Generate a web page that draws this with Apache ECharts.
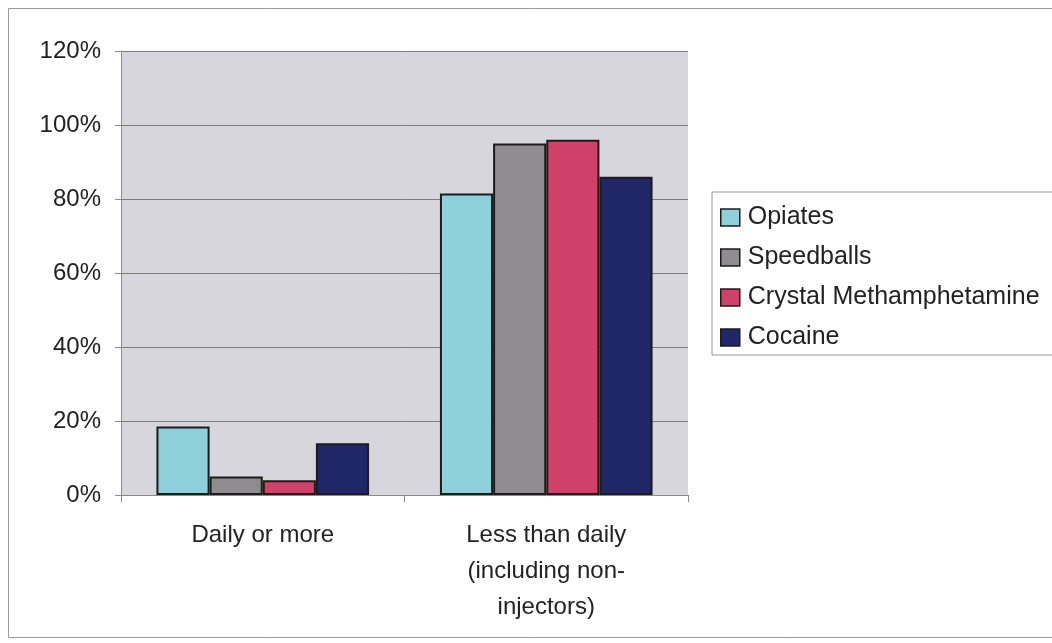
<!DOCTYPE html>
<html>
<head>
<meta charset="utf-8">
<title>Injection frequency by drug</title>
<script src="https://cdn.jsdelivr.net/npm/echarts@6/dist/echarts.min.js"></script>
<style>
  html, body { margin: 0; padding: 0; background: #ffffff; }
  #chart { width: 1052px; height: 643px; }
</style>
</head>
<body>
<div id="chart"></div>
<script>
// Frequency categories (x axis)
const categories = ['Daily or more', 'Less than daily\n(including non-\ninjectors)'];

// Share of users per drug in each frequency category (%)
const opiates = [18.5, 81.5];
const speedballs = [5, 95];
const crystalMeth = [4, 96];
const cocaine = [14, 86];

const seriesNames = ['Opiates', 'Speedballs', 'Crystal Methamphetamine', 'Cocaine'];
const seriesColors = ['#8dd0da', '#8e8c8e', '#cf4168', '#1f2768'];
const seriesValues = [opiates, speedballs, crystalMeth, cocaine];

// Y axis range (%)
const yMin = 0, yMax = 120, yStep = 20;

const FONT = '"Liberation Sans", Arial, Helvetica, sans-serif';

const chart = echarts.init(document.getElementById('chart'), null, { renderer: 'canvas' });

chart.setOption({
  backgroundColor: '#ffffff',
  animation: false,
  textStyle: { fontFamily: FONT, color: '#222222' },
  graphic: [
    {
      type: 'rect',
      shape: { x: 8.5, y: 8.5, width: 1060, height: 629 },
      style: { fill: 'none', stroke: '#9a9a9a', lineWidth: 1 },
      z: -10
    }
  ],
  grid: {
    left: 121, right: 364, top: 51, bottom: 148,
    show: true,
    backgroundColor: '#d8d6dd',
    borderWidth: 0
  },
  legend: {
    orient: 'vertical',
    left: 712, top: 192,
    padding: [13, 30, 5, 8],
    itemGap: 15,
    itemWidth: 19,
    itemHeight: 17,
    icon: 'rect',
    backgroundColor: '#ffffff',
    borderColor: '#9a9a9a',
    borderWidth: 1,
    textStyle: { fontSize: 25, color: '#222222', fontFamily: FONT, padding: [0, 0, 0, 3] },
    itemStyle: { borderColor: '#1c1c1c', borderWidth: 1.5 },
    data: seriesNames
  },
  xAxis: {
    type: 'category',
    data: categories,
    axisLine: { show: true, lineStyle: { color: '#8a8a8a', width: 1 } },
    axisTick: { show: true, length: 7, lineStyle: { color: '#8a8a8a' } },
    axisLabel: {
      fontSize: 24, color: '#222222', fontFamily: FONT,
      lineHeight: 36, margin: 22, interval: 0
    }
  },
  yAxis: {
    type: 'value',
    min: yMin, max: yMax, interval: yStep,
    axisLine: { show: true, lineStyle: { color: '#8a8a8a', width: 1 } },
    axisTick: { show: true, length: 6, lineStyle: { color: '#8a8a8a' } },
    splitLine: { show: true, lineStyle: { color: '#7c7c7c', width: 1 } },
    axisLabel: {
      fontSize: 24, color: '#222222', fontFamily: FONT,
      margin: 20, formatter: '{value}%'
    }
  },
  series: seriesNames.map((name, i) => ({
    name: name,
    type: 'bar',
    data: seriesValues[i],
    barGap: '0%',
    barCategoryGap: '25%',
    itemStyle: {
      color: seriesColors[i],
      borderColor: '#1c1c1c',
      borderWidth: 2
    }
  }))
});
</script>
</body>
</html>
